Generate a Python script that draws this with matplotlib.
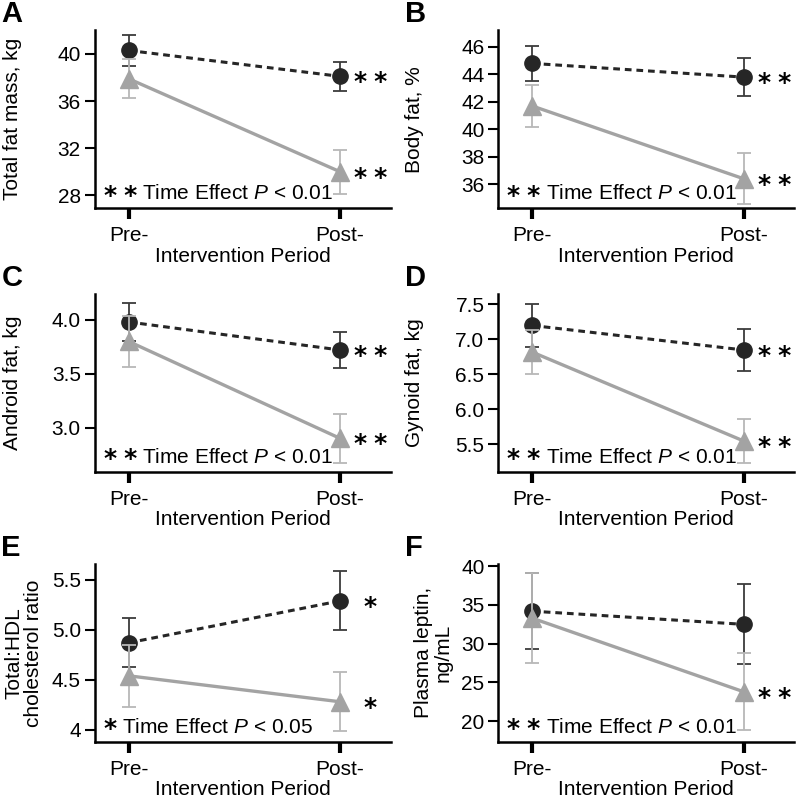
import matplotlib
matplotlib.use('Agg')
import matplotlib.pyplot as plt

plt.rcParams['font.family'] = ['Liberation Sans', 'DejaVu Sans']
plt.rcParams['mathtext.fontset'] = 'custom'
plt.rcParams['mathtext.rm'] = 'Liberation Sans'
plt.rcParams['mathtext.it'] = 'Liberation Sans:italic'

# x categories
periods = ['Pre-', 'Post-']

# A - total fat mass (kg)
fat_mass_black = [40.3, 38.1]
fat_mass_black_err = [1.3, 1.25]
fat_mass_gray = [37.9, 30.0]
fat_mass_gray_err = [1.65, 1.85]

# B - body fat (%)
body_fat_black = [44.8, 43.8]
body_fat_black_err = [1.3, 1.4]
body_fat_gray = [41.7, 36.4]
body_fat_gray_err = [1.5, 1.85]

# C - android fat (kg)
android_black = [3.98, 3.72]
android_black_err = [0.18, 0.165]
android_gray = [3.80, 2.90]
android_gray_err = [0.24, 0.225]

# D - gynoid fat (kg)
gynoid_black = [7.20, 6.85]
gynoid_black_err = [0.31, 0.305]
gynoid_gray = [6.82, 5.55]
gynoid_gray_err = [0.32, 0.31]

# E - total:HDL cholesterol ratio
chol_black = [4.87, 5.29]
chol_black_err = [0.245, 0.295]
chol_gray = [4.54, 4.28]
chol_gray_err = [0.31, 0.295]

# F - plasma leptin (ng/mL)
leptin_black = [34.2, 32.5]
leptin_black_err = [4.9, 5.15]
leptin_gray = [33.3, 23.8]
leptin_gray_err = [5.8, 4.95]

BLACK = '#262626'
BLACK_ERR = '#3c3c3c'
GRAY = '#a3a3a3'
GRAY_ERR = '#b8b8b8'
FS = 15
STAR = '\u204e'
TWO = STAR + ' ' + STAR

panels = [
    dict(letter='A', ylabel='Total fat mass, kg', black=fat_mass_black, black_err=fat_mass_black_err,
         gray=fat_mass_gray, gray_err=fat_mass_gray_err, ylim=(26.9, 42.0), yticks=[28, 32, 36, 40],
         ticklabels=['28', '32', '36', '40'], stars_black=TWO, stars_gray=TWO,
         note_stars=TWO, note='Time Effect $P$ < 0.01', pos=(0.119, 0.740), ylab_x=-0.247),
    dict(letter='B', ylabel='Body fat, %', black=body_fat_black, black_err=body_fat_black_err,
         gray=body_fat_gray, gray_err=body_fat_gray_err, ylim=(34.25, 47.2), yticks=[36, 38, 40, 42, 44, 46],
         ticklabels=['36', '38', '40', '42', '44', '46'], stars_black=TWO, stars_gray=TWO,
         note_stars=TWO, note='Time Effect $P$ < 0.01', pos=(0.626, 0.740), ylab_x=-0.25),
    dict(letter='C', ylabel='Android fat, kg', black=android_black, black_err=android_black_err,
         gray=android_gray, gray_err=android_gray_err, ylim=(2.59, 4.24), yticks=[3.0, 3.5, 4.0],
         ticklabels=['3.0', '3.5', '4.0'], stars_black=TWO, stars_gray=TWO,
         note_stars=TWO, note='Time Effect $P$ < 0.01', pos=(0.119, 0.411), ylab_x=-0.247),
    dict(letter='D', ylabel='Gynoid fat, kg', black=gynoid_black, black_err=gynoid_black_err,
         gray=gynoid_gray, gray_err=gynoid_gray_err, ylim=(5.11, 7.65), yticks=[5.5, 6.0, 6.5, 7.0, 7.5],
         ticklabels=['5.5', '6.0', '6.5', '7.0', '7.5'], stars_black=TWO, stars_gray=TWO,
         note_stars=TWO, note='Time Effect $P$ < 0.01', pos=(0.626, 0.411), ylab_x=-0.25),
    dict(letter='E', ylabel='Total:HDL\ncholesterol ratio', black=chol_black, black_err=chol_black_err,
         gray=chol_gray, gray_err=chol_gray_err, ylim=(3.88, 5.66), yticks=[4, 4.5, 5.0, 5.5],
         ticklabels=['4', '4.5', '5.0', '5.5'], stars_black=STAR, stars_gray=STAR,
         note_stars=STAR, note='Time Effect $P$ < 0.05', pos=(0.119, 0.074), ylab_x=-0.176),
    dict(letter='F', ylabel='Plasma leptin,\nng/mL', black=leptin_black, black_err=leptin_black_err,
         gray=leptin_gray, gray_err=leptin_gray_err, ylim=(17.35, 40.3), yticks=[20, 25, 30, 35, 40],
         ticklabels=['20', '25', '30', '35', '40'], stars_black=None, stars_gray=TWO,
         note_stars=TWO, note='Time Effect $P$ < 0.01', pos=(0.626, 0.074), ylab_x=-0.155),
]

fig = plt.figure(figsize=(7.96, 8.01), dpi=100)
x = [0, 1]

for p in panels:
    ax = fig.add_axes([p['pos'][0], p['pos'][1], 0.372, 0.222])

    # black circles, dashed
    ax.errorbar(x, p['black'], yerr=p['black_err'], fmt='none', ecolor=BLACK_ERR,
                elinewidth=1.3, capsize=5, capthick=1.3, zorder=2)
    ax.plot(x, p['black'], linestyle=(0, (2.2, 1.6)), color=BLACK, linewidth=2.2, zorder=3)
    ax.plot(x, p['black'], 'o', color=BLACK, markersize=11, zorder=4)

    # gray triangles, solid
    ax.errorbar(x, p['gray'], yerr=p['gray_err'], fmt='none', ecolor=GRAY_ERR,
                elinewidth=1.3, capsize=5, capthick=1.3, zorder=5)
    ax.plot(x, p['gray'], '-', color=GRAY, linewidth=2.4, zorder=6)
    ax.plot(x, p['gray'], '^', color=GRAY, markersize=13, zorder=7)

    # significance stars at post
    off = 17 if p['letter'] == 'E' else 10
    if p['stars_black']:
        ax.annotate(p['stars_black'], xy=(1, p['black'][1]), xytext=(off, 0),
                    textcoords='offset points', ha='left', va='center', fontsize=18,
                    fontweight='bold', color='black')
    if p['stars_gray']:
        ax.annotate(p['stars_gray'], xy=(1, p['gray'][1]), xytext=(off, 0),
                    textcoords='offset points', ha='left', va='center', fontsize=18,
                    fontweight='bold', color='black')

    # time-effect note
    st = ax.annotate(p['note_stars'], xy=(0.03, 0.05), xycoords='axes fraction',
                     xytext=(0, 2), textcoords='offset points', ha='left', va='baseline',
                     fontsize=18, fontweight='bold')
    ax.annotate(p['note'], xy=(1, 0.05), xycoords=(st, 'axes fraction'), xytext=(4, 0),
                textcoords='offset points', ha='left', va='baseline', fontsize=FS)

    ax.set_xlim(-0.16, 1.24)
    ax.set_ylim(*p['ylim'])
    ax.set_xticks(x)
    ax.set_xticklabels(periods, fontsize=FS)
    ax.set_yticks(p['yticks'])
    ax.set_yticklabels(p['ticklabels'], fontsize=FS)
    ax.set_xlabel('Intervention Period', fontsize=FS, labelpad=1)
    ax.set_ylabel(p['ylabel'], fontsize=FS, linespacing=1.0)
    ax.yaxis.set_label_coords(p['ylab_x'], 0.5)

    ax.spines['top'].set_visible(False)
    ax.spines['right'].set_visible(False)
    ax.spines['left'].set_linewidth(1.8)
    ax.spines['bottom'].set_linewidth(1.8)
    ax.tick_params(axis='y', length=7, width=1.5, pad=3)
    ax.tick_params(axis='x', length=8, width=3, pad=5)

    ax.text(-0.315, 1.17, p['letter'], transform=ax.transAxes, fontsize=21, fontweight='bold',
            ha='left', va='top')

fig.savefig('out.png', dpi=100)
